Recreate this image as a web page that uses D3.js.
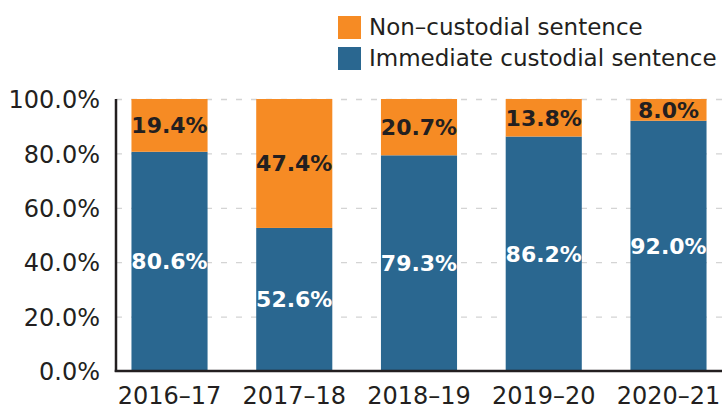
<!DOCTYPE html>
<html>
<head>
<meta charset="utf-8">
<script src="https://cdn.jsdelivr.net/npm/d3@7"></script>
<style>
  html, body { margin: 0; padding: 0; background: #fff; }
  svg { display: block; font-family: "DejaVu Sans", sans-serif; }
</style>
</head>
<body>
<svg id="chart" width="723" height="410"></svg>
<script>
// Sentencing outcomes by financial year (percent of cases)
const years = ["2016–17", "2017–18", "2018–19", "2019–20", "2020–21"];
const custodial = [80.6, 52.6, 79.3, 86.2, 92.0];
const nonCustodial = [19.4, 47.4, 20.7, 13.8, 8.0];
const yTicks = [0, 20, 40, 60, 80, 100];
const seriesNames = ["Non–custodial sentence", "Immediate custodial sentence"];

const colors = { custodial: "#2a6790", nonCustodial: "#f68b24" };

const svg = d3.select("#chart");
const plotLeft = 116, plotRight = 722, plotTop = 99, plotBottom = 371;

const x = d3.scaleBand().domain(years).range([plotLeft, plotRight])
  .paddingInner(0.39).paddingOuter(0.124);
const y = d3.scaleLinear().domain([0, 100]).range([plotBottom, plotTop]);

// Dashed gridlines
const grid = svg.append("g").attr("transform", `translate(${plotLeft},0)`)
  .call(d3.axisLeft(y).tickValues(yTicks.filter(d => d > 0))
    .tickSize(-(plotRight - plotLeft)).tickFormat(""));
grid.select(".domain").remove();
grid.selectAll("line").attr("stroke", "#d4d4d4").attr("stroke-width", 1.3)
  .attr("stroke-dasharray", "6,9");

// Stacked bars
const rows = years.map((yr, i) => ({ yr, c: custodial[i], n: nonCustodial[i] }));
const bars = svg.append("g");
bars.selectAll(".c").data(rows).join("rect")
  .attr("x", d => x(d.yr)).attr("width", x.bandwidth())
  .attr("y", d => y(d.c)).attr("height", d => y(0) - y(d.c))
  .attr("fill", colors.custodial);
bars.selectAll(".n").data(rows).join("rect")
  .attr("x", d => x(d.yr)).attr("width", x.bandwidth())
  .attr("y", d => y(d.c + d.n)).attr("height", d => y(d.c) - y(d.c + d.n))
  .attr("fill", colors.nonCustodial);

// Segment value labels
const fmt = v => d3.format(".1f")(v) + "%";
const labels = svg.append("g").attr("font-weight", "bold").attr("font-size", 22)
  .attr("text-anchor", "middle");
labels.selectAll(".lc").data(rows).join("text")
  .attr("x", d => x(d.yr) + x.bandwidth() / 2)
  .attr("y", d => y(d.c / 2)).attr("dy", "0.36em")
  .attr("fill", "#fff").text(d => fmt(d.c));
labels.selectAll(".ln").data(rows).join("text")
  .attr("x", d => x(d.yr) + x.bandwidth() / 2)
  .attr("y", d => y(d.c + d.n / 2)).attr("dy", "0.36em")
  .attr("fill", "#231f20").text(d => fmt(d.n));

// Y axis labels
const yAxis = svg.append("g").attr("transform", `translate(${plotLeft},0)`)
  .call(d3.axisLeft(y).tickValues(yTicks).tickSize(0).tickPadding(16)
    .tickFormat(d => d3.format(".1f")(d) + "%"));
yAxis.select(".domain").remove();
yAxis.selectAll("text").attr("font-size", 24).attr("fill", "#231f20")
  .attr("font-family", "DejaVu Sans, sans-serif").attr("dy", "0.36em");

// X axis labels
const xAxis = svg.append("g").attr("transform", `translate(0,${plotBottom})`)
  .call(d3.axisBottom(x).tickSize(0).tickPadding(16));
xAxis.select(".domain").remove();
xAxis.selectAll("text").attr("font-size", 24).attr("fill", "#231f20")
  .attr("font-family", "DejaVu Sans, sans-serif");

// Axis lines
svg.append("line").attr("x1", plotLeft).attr("x2", plotLeft).attr("y1", plotTop).attr("y2", plotBottom + 1)
  .attr("stroke", "#231f20").attr("stroke-width", 2.5);
svg.append("line").attr("x1", plotLeft - 1.25).attr("x2", plotRight).attr("y1", plotBottom).attr("y2", plotBottom)
  .attr("stroke", "#231f20").attr("stroke-width", 2.5);

// Legend
const legend = svg.append("g");
const legendItems = [
  { name: seriesNames[0], color: colors.nonCustodial },
  { name: seriesNames[1], color: colors.custodial }
];
legendItems.forEach((d, i) => {
  const g = legend.append("g").attr("transform", `translate(338,${16 + i * 31})`);
  g.append("rect").attr("width", 23).attr("height", 23).attr("fill", d.color);
  g.append("text").attr("x", 31).attr("y", 18.5).attr("font-size", 23)
    .attr("fill", "#231f20").text(d.name);
});
</script>
</body>
</html>
